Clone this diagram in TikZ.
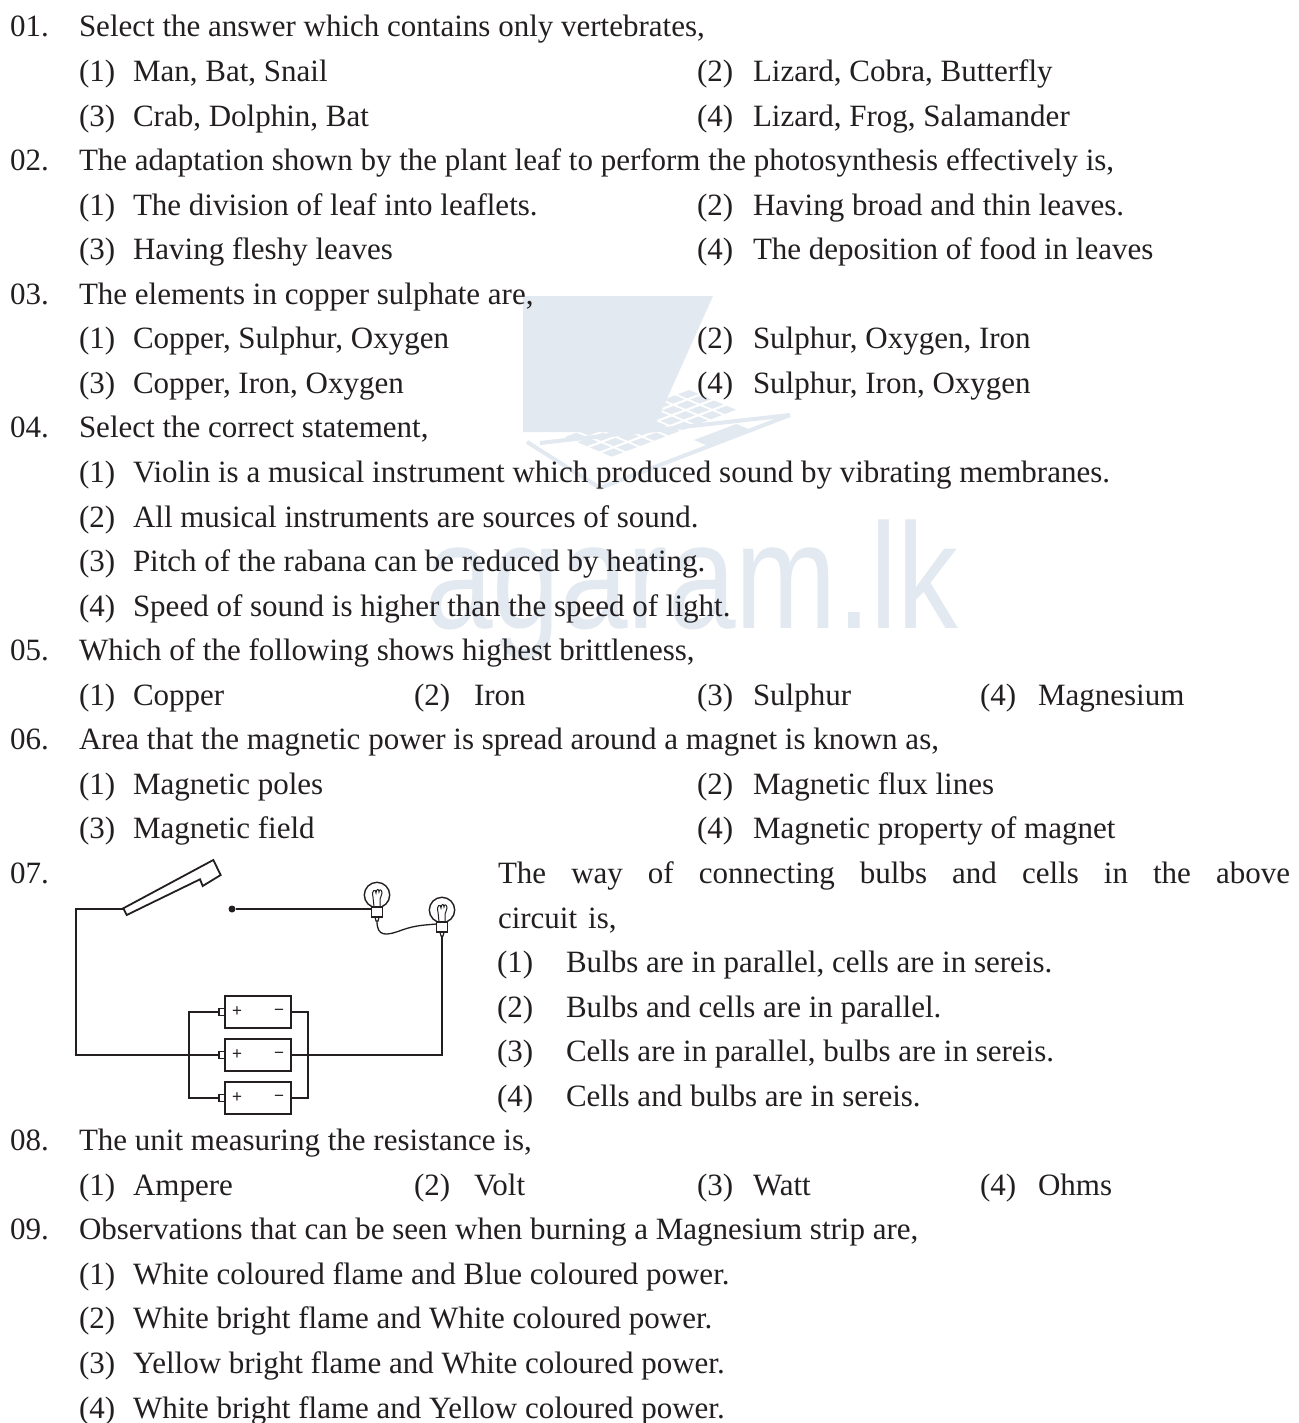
\documentclass[tikz,border=0pt]{standalone}
\usepackage{fontspec}
\setmainfont{Liberation Serif}
\newfontfamily\wmfont{Liberation Sans}
\newfontfamily\pmfont{Liberation Sans}
\newcommand\tfont{\fontsize{31}{37}\selectfont}
\newcommand\tline[4]{\node[t] (#1) at (#2,{37+44.55*#3}) {#4};}
\definecolor{wm}{RGB}{226,233,240}
\definecolor{ink}{RGB}{35,31,32}
\begin{document}
\begin{tikzpicture}[x=1pt,y=-1pt,
  t/.style={anchor=base west,inner sep=0pt,outer sep=0pt,font=\tfont,text=ink},
  wire/.style={draw=ink,line width=2pt,line join=miter},
  thinwire/.style={draw=ink,line width=1.3pt},
  cellbox/.style={draw=ink,fill=white,line width=1.8pt,minimum width=66pt,minimum height=32pt,inner sep=0pt,outer sep=0pt},
  nubbox/.style={draw=ink,fill=white,line width=1.5pt,minimum width=6pt,minimum height=7pt,inner sep=0pt,outer sep=0pt,anchor=east},
  sign/.style={text=ink,font=\pmfont\fontsize{17}{17}\selectfont,inner sep=0pt},
  bulb/.pic={
    \draw[ink,line width=1.4pt] (0,0) circle (12.7);
    \draw[ink,line width=1pt] (-3,12) -- (-4,2) .. controls (-6,-5) and (-1,-7) .. (-1,-2)
      .. controls (-1,-6) and (2,-7) .. (2,-3) .. controls (2,-6) and (5,-6) .. (5,-2)
      .. controls (5,1) and (3,2) .. (3,4) -- (3,12);
    \filldraw[ink,fill=white,line width=1.4pt] (-5.5,12) rectangle (5.5,22);
    \draw[ink,line width=1.2pt] (-2,22) -- (-1,26) -- (1,26) -- (2,22);
    \coordinate (-tip) at (0,26);
    \coordinate (-left) at (-5.5,14);
  }]
\useasboundingbox (0,0) rectangle (1298,1423);
\fill[white] (0,0) rectangle (1298,1423);

% watermark: laptop
\fill[wm] (523,296) -- (713,296) -- (652,432) -- (523,432) -- cycle;
\draw[wm,line width=4pt,line join=round] (527,442) -- (600,488) -- (790,415);
\draw[wm,line width=4pt] (540,443) -- (790,415);
\foreach \j in {0,...,3}{
  \foreach \i in {0,...,8}{
    \fill[wm] ({565+\i*14.1+\j*12.5},{437-\i*5.33+\j*5.25}) -- ++(11.3,-4.3) -- ++(9.4,3.9) -- ++(-11.3,4.3) -- cycle;
  }
}
\fill[wm] (694,440) -- ++(42.3,-16) -- ++(15,6.3) -- ++(-42.3,16) -- cycle;
% watermark: text
\node[anchor=base west,inner sep=0pt,text=wm,font=\wmfont\fontsize{150}{150}\selectfont] (wmtext) at (425,628) {\scalebox{0.81}[1]{agaram.lk}};

% Q01
\tline{n1}{10}{0}{01.}
\tline{q1}{79}{0}{Select the answer which contains only vertebrates,}
\tline{q1a}{79}{1}{(1)}  \tline{q1at}{133}{1}{Man, Bat, Snail}
\tline{q1b}{697}{1}{(2)} \tline{q1bt}{753}{1}{Lizard, Cobra, Butterfly}
\tline{q1c}{79}{2}{(3)}  \tline{q1ct}{133}{2}{Crab, Dolphin, Bat}
\tline{q1d}{697}{2}{(4)} \tline{q1dt}{753}{2}{Lizard, Frog, Salamander}
% Q02
\tline{n2}{10}{3}{02.}
\tline{q2}{79}{3}{The adaptation shown by the plant leaf to perform the photosynthesis effectively is,}
\tline{q2a}{79}{4}{(1)}  \tline{q2at}{133}{4}{The division of leaf into leaflets.}
\tline{q2b}{697}{4}{(2)} \tline{q2bt}{753}{4}{Having broad and thin leaves.}
\tline{q2c}{79}{5}{(3)}  \tline{q2ct}{133}{5}{Having fleshy leaves}
\tline{q2d}{697}{5}{(4)} \tline{q2dt}{753}{5}{The deposition of food in leaves}
% Q03
\tline{n3}{10}{6}{03.}
\tline{q3}{79}{6}{The elements in copper sulphate are,}
\tline{q3a}{79}{7}{(1)}  \tline{q3at}{133}{7}{Copper, Sulphur, Oxygen}
\tline{q3b}{697}{7}{(2)} \tline{q3bt}{753}{7}{Sulphur, Oxygen, Iron}
\tline{q3c}{79}{8}{(3)}  \tline{q3ct}{133}{8}{Copper, Iron, Oxygen}
\tline{q3d}{697}{8}{(4)} \tline{q3dt}{753}{8}{Sulphur, Iron, Oxygen}
% Q04
\tline{n4}{10}{9}{04.}
\tline{q4}{79}{9}{Select the correct statement,}
\tline{q4a}{79}{10}{(1)} \tline{q4at}{133}{10}{Violin is a musical instrument which produced sound by vibrating membranes.}
\tline{q4b}{79}{11}{(2)} \tline{q4bt}{133}{11}{All musical instruments are sources of sound.}
\tline{q4c}{79}{12}{(3)} \tline{q4ct}{133}{12}{Pitch of the rabana can be reduced by heating.}
\tline{q4d}{79}{13}{(4)} \tline{q4dt}{133}{13}{Speed of sound is higher than the speed of light.}
% Q05
\tline{n5}{10}{14}{05.}
\tline{q5}{79}{14}{Which of the following shows highest brittleness,}
\tline{q5a}{79}{15}{(1)}  \tline{q5at}{133}{15}{Copper}
\tline{q5b}{414}{15}{(2)} \tline{q5bt}{474}{15}{Iron}
\tline{q5c}{697}{15}{(3)} \tline{q5ct}{753}{15}{Sulphur}
\tline{q5d}{980}{15}{(4)} \tline{q5dt}{1038}{15}{Magnesium}
% Q06
\tline{n6}{10}{16}{06.}
\tline{q6}{79}{16}{Area that the magnetic power is spread around a magnet is known as,}
\tline{q6a}{79}{17}{(1)}  \tline{q6at}{133}{17}{Magnetic poles}
\tline{q6b}{697}{17}{(2)} \tline{q6bt}{753}{17}{Magnetic flux lines}
\tline{q6c}{79}{18}{(3)}  \tline{q6ct}{133}{18}{Magnetic field}
\tline{q6d}{697}{18}{(4)} \tline{q6dt}{753}{18}{Magnetic property of magnet}
% Q07
\tline{n7}{10}{19}{07.}
\tline{q7}{498}{19}{\makebox[792pt][s]{The way of connecting bulbs and cells in the above}}
\tline{q7l}{498}{20}{circuit\hspace{11pt}is,}
\tline{q7a}{497}{21}{(1)} \tline{q7at}{566}{21}{Bulbs are in parallel, cells are in sereis.}
\tline{q7b}{497}{22}{(2)} \tline{q7bt}{566}{22}{Bulbs and cells are in parallel.}
\tline{q7c}{497}{23}{(3)} \tline{q7ct}{566}{23}{Cells are in parallel, bulbs are in sereis.}
\tline{q7d}{497}{24}{(4)} \tline{q7dt}{566}{24}{Cells and bulbs are in sereis.}
% Q08
\tline{n8}{10}{25}{08.}
\tline{q8}{79}{25}{The unit measuring the resistance is,}
\tline{q8a}{79}{26}{(1)}  \tline{q8at}{133}{26}{Ampere}
\tline{q8b}{414}{26}{(2)} \tline{q8bt}{474}{26}{Volt}
\tline{q8c}{697}{26}{(3)} \tline{q8ct}{753}{26}{Watt}
\tline{q8d}{980}{26}{(4)} \tline{q8dt}{1038}{26}{Ohms}
% Q09
\tline{n9}{10}{27}{09.}
\tline{q9}{79}{27}{Observations that can be seen when burning a Magnesium strip are,}
\tline{q9a}{79}{28}{(1)} \tline{q9at}{133}{28}{White coloured flame and Blue coloured power.}
\tline{q9b}{79}{29}{(2)} \tline{q9bt}{133}{29}{White bright flame and White coloured power.}
\tline{q9c}{79}{30}{(3)} \tline{q9ct}{133}{30}{Yellow bright flame and White coloured power.}
\tline{q9d}{79}{31}{(4)} \tline{q9dt}{133}{31}{White bright flame and Yellow coloured power.}

% circuit
\coordinate (lw1) at (76,909);
\coordinate (lw2) at (76,1055);
\coordinate (piv) at (123.5,909);
\coordinate (lb1) at (189,1012);
\coordinate (lb3) at (189,1098);
\coordinate (rb1) at (308,1012);
\coordinate (rb3) at (308,1098);
\coordinate (rc) at (442,1055);
\node[cellbox] (cell1) at (258,1012) {};
\node[cellbox] (cell2) at (258,1055) {};
\node[cellbox] (cell3) at (258,1098) {};
\foreach \i in {1,2,3}{
  \node[nubbox] (nub\i) at (cell\i.west) {};
  \node[sign] (plus\i) at ([xshift=12pt]cell\i.west) {+};
  \node[sign] (minus\i) at ([xshift=-12pt]cell\i.east) {\char"2212};
}
\pic (b1) at (377,895) {bulb};
\pic (b2) at (442,910) {bulb};
\node[circle,fill=ink,inner sep=0pt,minimum size=7pt] (contact) at (232,909) {};
\draw[wire] (piv) -- (lw1) -- (lw2) -- (nub2.west);
\draw[wire] (nub1.west) -- (lb1) -- (lb3) -- (nub3.west);
\draw[wire] (cell1.east) -- (rb1) -- (rb3) -- (cell3.east);
\draw[wire] (cell2.east) -- (rc) -- (b2-tip);
\draw[wire] (contact) -- (b1-left);
\draw[thinwire] (b1-tip) .. controls (377,937) and (386,936) .. (402,930) .. controls (416,925) and (426,925) .. (b2-left);
\filldraw[ink,fill=white,line width=1.8pt,line join=miter] (123.3,908.3) -- (213.3,860) -- (220.7,875) -- (202.7,886) -- (200,879.3) -- (126.7,915) -- cycle;
\end{tikzpicture}
\end{document}
